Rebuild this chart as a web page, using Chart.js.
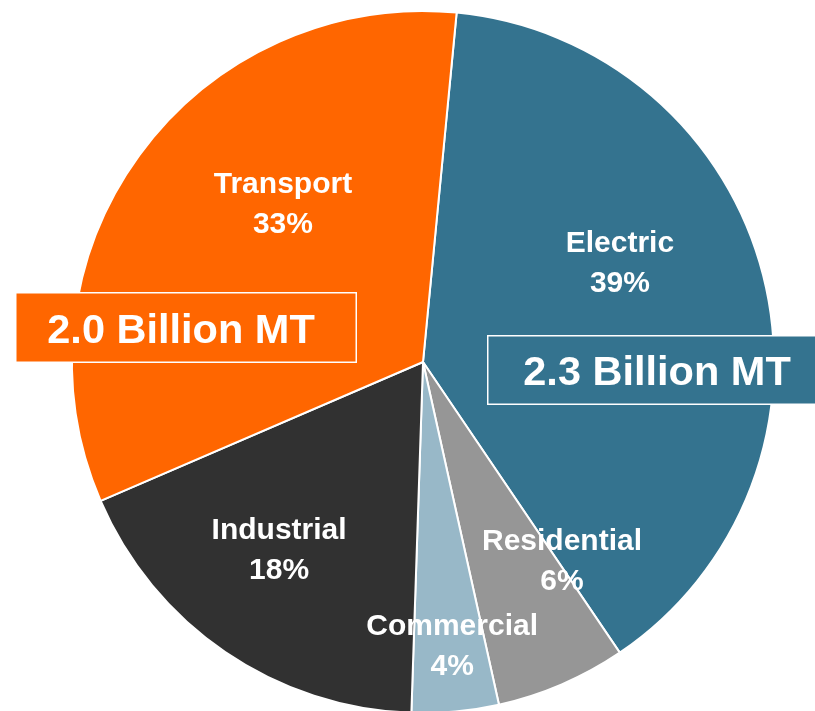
<!DOCTYPE html>
<html>
<head>
<meta charset="utf-8">
<script src="https://cdn.jsdelivr.net/npm/chart.js@4/dist/chart.umd.min.js"></script>
<style>
  html, body { margin: 0; padding: 0; background: #fff; overflow: hidden; }
  #wrap { width: 815px; height: 724px; }
</style>
</head>
<body>
<div id="wrap"><canvas id="pie" width="815" height="724"></canvas></div>
<script>
// data
var categories = ["Electric", "Residential", "Commercial", "Industrial", "Transport"];
var shares = [39, 6, 4, 18, 33];
var sliceColors = ["#34738f", "#969696", "#98b8c8", "#313131", "#ff6600"];

// label spots, as fraction of radius from the pie centre
var labelDX = [0.561, 0.396, 0.083, -0.410, -0.399];
var labelDY = [-0.285, 0.564, 0.806, 0.533, -0.452];

// the two total callouts
var calloutText = ["2.3 Billion MT", "2.0 Billion MT"];
var calloutColor = ["#34738f", "#ff6600"];
var calloutBox = [[64, -27, 340, 70], [-408, -70, 342, 71]]; // left, top, w, h from centre

var LABEL_FONT = "bold 30px 'Liberation Sans', Arial, sans-serif";
var BIG_FONT = "bold 41.5px 'Liberation Sans', Arial, sans-serif";

var labelsPlugin = {
    id: "pieLabels",
    afterDatasetsDraw: function(chart) {
        var ctx = chart.ctx;
        var arc = chart.getDatasetMeta(0).data[0];
        var cx = arc.x, cy = arc.y, r = arc.outerRadius;
        ctx.save();

        // callout boxes
        for (var b = 0; b < calloutText.length; b++) {
            var bx = cx + calloutBox[b][0], by = cy + calloutBox[b][1];
            var bw = calloutBox[b][2], bh = calloutBox[b][3];
            ctx.fillStyle = calloutColor[b];
            ctx.fillRect(bx, by, bw, bh);
            ctx.strokeStyle = "#ffffff";
            ctx.lineWidth = 1.5;
            ctx.strokeRect(bx + 0.75, by + 0.75, bw - 1.5, bh - 1.5);
            ctx.fillStyle = "#ffffff";
            ctx.font = BIG_FONT;
            ctx.textAlign = "center";
            ctx.textBaseline = "alphabetic";
            var tx = b == 0 ? bx + 170 : bx + bw / 2 - 5;
            ctx.fillText(calloutText[b], tx, by + bh / 2 + 15);
        }

        // slice labels
        ctx.font = LABEL_FONT;
        ctx.fillStyle = "#ffffff";
        ctx.textAlign = "center";
        ctx.textBaseline = "alphabetic";
        for (var i = 0; i < categories.length; i++) {
            var x = cx + labelDX[i] * r;
            var y = cy + labelDY[i] * r;
            ctx.fillText(categories[i], x, y - 10);
            ctx.fillText(shares[i] + "%", x, y + 30);
        }
        ctx.restore();
    }
};

var ctx = document.getElementById("pie").getContext("2d");
var myChart = new Chart(ctx, {
    type: "pie",
    data: {
        labels: categories,
        datasets: [{
            data: shares,
            backgroundColor: sliceColors,
            borderColor: "#ffffff",
            borderWidth: 2
        }]
    },
    options: {
        responsive: false,
        animation: false,
        rotation: 5.5,
        layout: { padding: { left: 31, right: 0, top: 10, bottom: 10 } },
        plugins: {
            legend: { display: false },
            tooltip: { enabled: false }
        }
    },
    plugins: [labelsPlugin]
});
</script>
</body>
</html>
